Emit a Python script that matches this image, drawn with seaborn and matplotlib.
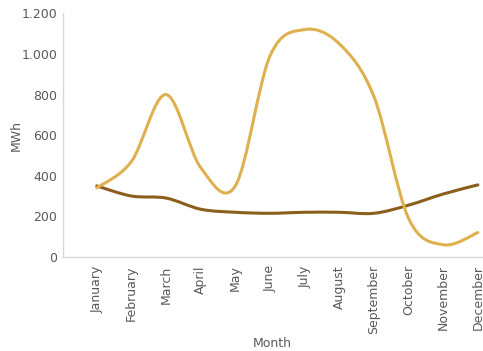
import numpy as np
import pandas as pd
import seaborn as sns
import matplotlib
matplotlib.use("Agg")
from matplotlib import pyplot as plt
import matplotlib.ticker as mtick
from matplotlib.path import Path
from matplotlib.patches import PathPatch

months = ['January', 'February', 'March', 'April', 'May', 'June', 'July',
          'August', 'September', 'October', 'November', 'December']
series_a = [340, 470, 800, 440, 350, 990, 1120, 1050, 790, 190, 60, 120]
series_b = [350, 300, 290, 235, 220, 215, 220, 220, 215, 255, 310, 355]
colors = ['#8B5E1C', '#DFB050']

sns.set_style("white")
plt.rcParams['font.family'] = ['DejaVu Sans']
grey = '#595959'
fs = 9

df = pd.DataFrame({'Month': months * 2,
                   'MWh': series_b + series_a,
                   'Series': ['B'] * 12 + ['A'] * 12})
df['idx'] = list(range(12)) * 2

fig = plt.figure(figsize=(4.83, 3.51), dpi=100)
ax = fig.add_axes([0.130, 0.268, 0.868, 0.694])
sns.lineplot(data=df, x='idx', y='MWh', hue='Series', palette=colors,
             linewidth=2, legend=False, ax=ax)


def smooth_path(x, y, t=0.5):
    # Catmull-Rom turned into cubic bezier pieces
    verts = [(x[0], y[0])]
    codes = [Path.MOVETO]
    n = len(x)
    for i in range(n - 1):
        x0, y0 = (x[i - 1], y[i - 1]) if i > 0 else (x[i], y[i])
        x3, y3 = (x[i + 2], y[i + 2]) if i + 2 < n else (x[i + 1], y[i + 1])
        c1 = (x[i] + (x[i + 1] - x0) * t / 3, y[i] + (y[i + 1] - y0) * t / 3)
        c2 = (x[i + 1] - (x3 - x[i]) * t / 3, y[i + 1] - (y3 - y[i]) * t / 3)
        verts += [c1, c2, (x[i + 1], y[i + 1])]
        codes += [Path.CURVE4] * 3
    return Path(verts, codes)


for line in list(ax.lines):
    xs, ys = line.get_xdata(), line.get_ydata()
    p = PathPatch(smooth_path(list(xs), list(ys), t=0.5), fill=False,
                  edgecolor=line.get_color(), linewidth=2.2,
                  capstyle='round', joinstyle='round', zorder=line.get_zorder())
    ax.add_patch(p)
    line.set_visible(False)

ax.set_xlim(-0.98, 11.12)
ax.set_ylim(0, 1200)
ax.set_xticks(range(12))
ax.set_xticklabels(months, rotation=90, color=grey, fontsize=fs)
ax.set_yticks(range(0, 1201, 200))
ax.yaxis.set_major_formatter(mtick.FuncFormatter(lambda v, p: f'{int(v):,}'.replace(',', '.')))
ax.tick_params(axis='y', colors=grey, labelsize=fs, length=0, pad=4)
ax.tick_params(axis='x', length=0, pad=6)
for lbl in ax.get_yticklabels():
    lbl.set_color(grey)

ax.set_xlabel('Month', color=grey, fontsize=fs, labelpad=2)
ax.set_ylabel('MWh', color=grey, fontsize=fs, labelpad=-1)

for s in ['top', 'right']:
    ax.spines[s].set_visible(False)
for s in ['left', 'bottom']:
    ax.spines[s].set_color('#D9D9D9')
    ax.spines[s].set_linewidth(1)

fig.savefig('out.png', dpi=100)
